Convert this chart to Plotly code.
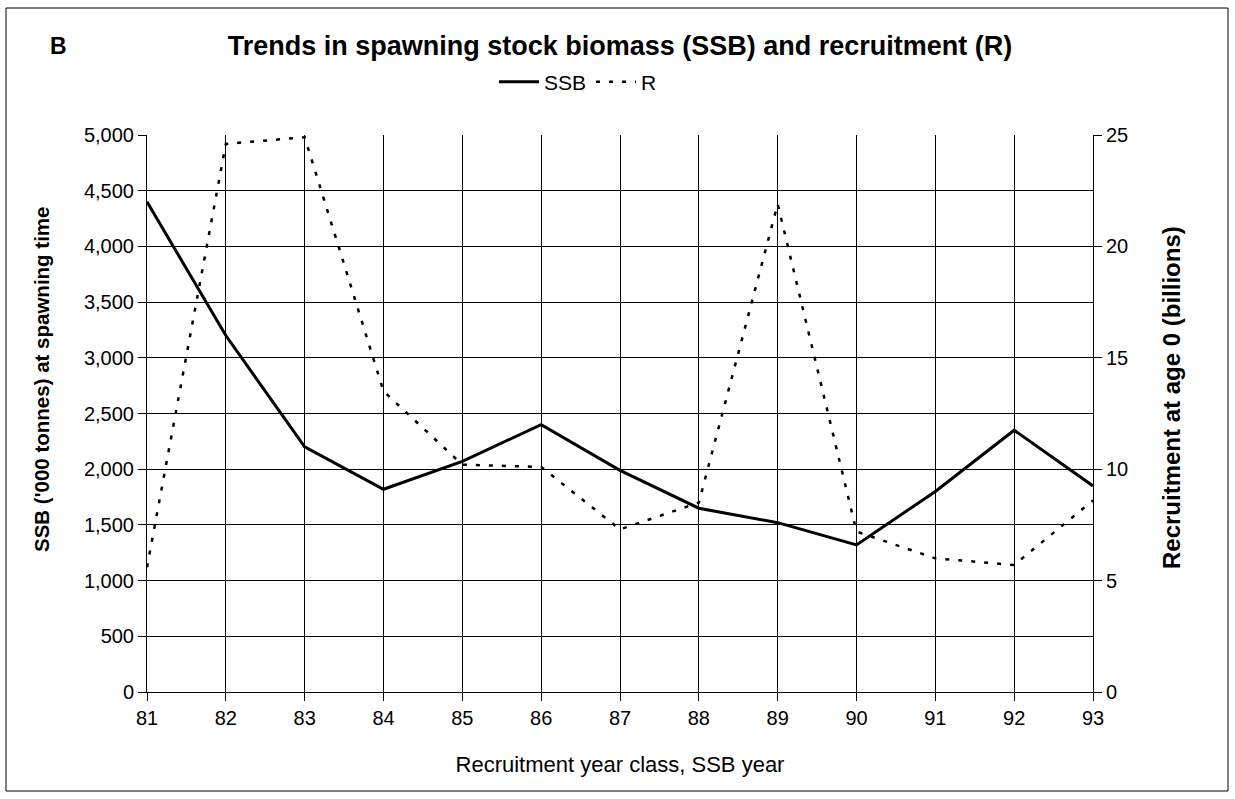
import plotly.graph_objects as go

years = [81, 82, 83, 84, 85, 86, 87, 88, 89, 90, 91, 92, 93]
ssb = [4400, 3200, 2200, 1820, 2070, 2400, 1990, 1650, 1520, 1320, 1800, 2350, 1850]
recruit = [5.6, 24.6, 24.9, 13.5, 10.2, 10.1, 7.3, 8.5, 21.9, 7.2, 6.0, 5.7, 8.6]
ssb_ticks = list(range(0, 5001, 500))
r_ticks = [0, 5, 10, 15, 20, 25]

FONT = "Liberation Sans, Arial, sans-serif"

fig = go.Figure()
fig.add_trace(go.Scatter(x=years, y=ssb, name="SSB", mode="lines",
                         line=dict(color="black", width=3), yaxis="y"))
fig.add_trace(go.Scatter(x=years, y=recruit, name="R", mode="lines",
                         line=dict(color="black", width=2.5, dash="4px,9px"), yaxis="y2"))

W, H = 1235, 799
L, R, T, B = 147, 142, 135, 107
pw, ph = W - L - R, H - T - B

def px_x(px):
    return (px - L) / pw

def px_y(py):
    return (H - B - py) / ph

fig.update_layout(
    width=W, height=H,
    margin=dict(l=L, r=R, t=T, b=B, autoexpand=False),
    paper_bgcolor="white", plot_bgcolor="white",
    font=dict(family=FONT, size=20, color="black"),
    title=dict(text="<b>Trends in spawning stock biomass (SSB) and recruitment (R)</b>",
               x=620 / W, xanchor="center", y=1 - 46 / H, yanchor="middle",
               font=dict(size=27, family=FONT, color="black")),
    showlegend=True,
    legend=dict(orientation="h", x=px_x(578), xanchor="center", y=px_y(82), yanchor="middle",
                font=dict(size=21, family=FONT), bgcolor="rgba(0,0,0,0)",
                itemwidth=40, tracegroupgap=0),
    xaxis=dict(range=[81, 93], tickmode="array", tickvals=years,
               ticktext=[str(y) for y in years],
               showgrid=True, gridcolor="black", gridwidth=1,
               showline=True, linecolor="black", linewidth=1,
               ticks="outside", ticklen=8, tickcolor="black",
               zeroline=False, tickfont=dict(size=20),
               title=dict(text="Recruitment year class, SSB year", standoff=28,
                          font=dict(size=22))),
    yaxis=dict(range=[0, 5000], tickmode="array", tickvals=ssb_ticks,
               ticktext=[f"{v:,}" for v in ssb_ticks],
               showgrid=True, gridcolor="black", gridwidth=1,
               showline=True, linecolor="black", linewidth=1,
               ticks="outside", ticklen=8, tickcolor="black",
               zeroline=False, tickfont=dict(size=20)),
    yaxis2=dict(range=[0, 25], tickmode="array", tickvals=r_ticks,
                overlaying="y", side="right",
                showgrid=False,
                showline=True, linecolor="black", linewidth=1,
                ticks="outside", ticklen=8, tickcolor="black",
                zeroline=False, tickfont=dict(size=20)),
)

# axis titles placed as rotated annotations (positions)
fig.add_annotation(text="<b>SSB ('000 tonnes) at spawning time</b>", xref="paper", yref="paper",
                   x=px_x(41), y=px_y(380), xanchor="center", yanchor="middle",
                   textangle=-90, showarrow=False, font=dict(size=20.5, family=FONT, color="black"))
fig.add_annotation(text="<b>Recruitment at age 0 (billions)</b>", xref="paper", yref="paper",
                   x=px_x(1171), y=px_y(398), xanchor="center", yanchor="middle",
                   textangle=-90, showarrow=False, font=dict(size=24, family=FONT, color="black"))

fig.add_annotation(text="<b>B</b>", xref="paper", yref="paper",
                   x=px_x(58), y=px_y(46), xanchor="center", yanchor="middle",
                   showarrow=False, font=dict(size=23, family=FONT, color="black"))

fig.add_shape(type="rect", xref="paper", yref="paper",
              x0=px_x(6), x1=px_x(1228), y0=px_y(791), y1=px_y(8),
              line=dict(color="black", width=1), fillcolor="rgba(0,0,0,0)", layer="below")

fig.write_html("out.html", config={"displayModeBar": False},
               post_script="document.body.style.margin='0px';document.body.style.padding='0px';")
